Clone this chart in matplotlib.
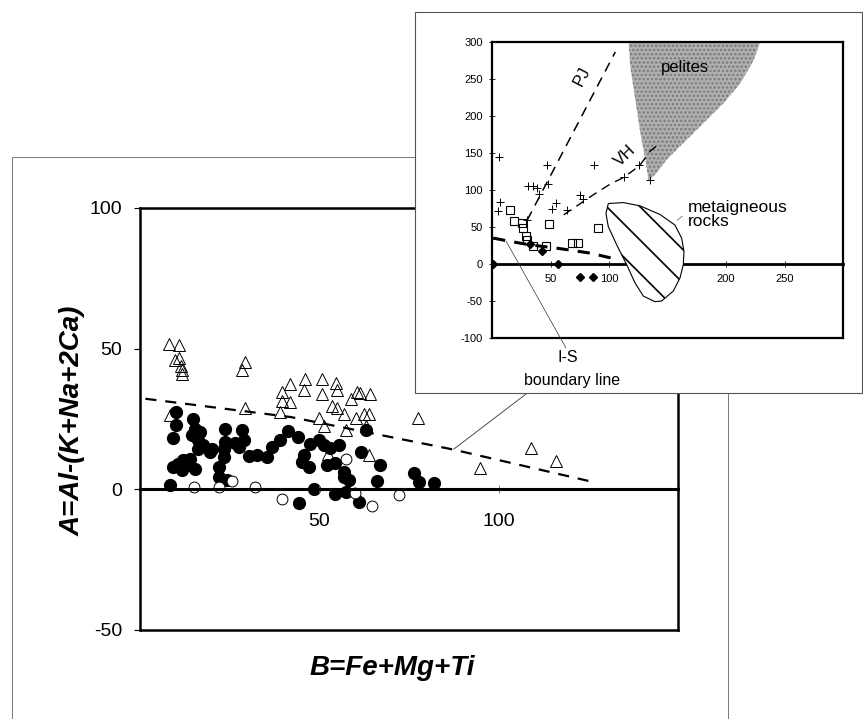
import matplotlib
matplotlib.use('Agg')
import matplotlib.pyplot as plt
from matplotlib.patches import Rectangle, Polygon

plt.rcParams['font.family'] = ['Liberation Sans', 'DejaVu Sans']
plt.rcParams['axes.unicode_minus'] = False
plt.rcParams['hatch.linewidth'] = 1.2

# ---- main diagram: A = Al-(K+Na+2Ca) vs B = Fe+Mg+Ti ----
tri_x = [8.2, 11.0, 9.8, 11.0, 11.4, 11.6, 11.6, 29.3, 28.4, 29.3, 8.4,
         39.6, 41.9, 39.6, 41.9, 39.1, 46.1, 45.6, 50.8, 50.8, 54.7, 54.9,
         58.7, 60.5, 61.4, 64.2, 53.5, 54.9, 56.8, 49.8, 51.2, 57.5,
         60.3, 62.4, 63.8, 63.1, 63.8, 52.3, 77.6, 94.7, 109.0, 115.9]
tri_y = [51.5, 51.2, 46.0, 46.8, 44.0, 42.3, 41.1, 45.3, 42.3, 29.0, 26.3,
         34.6, 37.6, 31.4, 31.0, 27.5, 39.2, 35.2, 39.2, 34.0, 37.8, 35.2,
         32.2, 34.6, 34.4, 34.0, 29.5, 29.0, 26.7, 25.5, 22.4, 21.2,
         25.5, 26.9, 26.7, 22.4, 12.3, 12.7, 25.5, 7.7, 14.8, 10.0]

dot_x = [10.0, 10.0, 9.3, 14.9, 15.4, 14.4, 16.8, 16.3, 17.7, 19.6, 16.3,
         10.7, 12.1, 14.0, 11.6, 15.4, 9.3, 13.5, 23.7, 23.7, 23.3, 23.3,
         21.9, 21.9, 24.2, 26.5, 28.4, 28.9, 27.5, 30.5, 32.6, 35.4, 36.8,
         39.1, 41.2, 44.0, 8.4, 47.5, 49.8, 51.2, 53.1, 55.4, 45.6, 45.2,
         47.0, 52.2, 54.5, 56.8, 58.2, 61.5, 63.1, 66.8, 66.1, 76.3, 77.7,
         82.1, 48.6, 54.5, 57.4, 44.2, 61.0, 56.8, 20.0]
dot_y = [27.5, 23.0, 18.2, 25.1, 21.6, 19.2, 20.4, 17.4, 15.6, 13.3, 14.5,
         9.1, 10.3, 10.9, 6.8, 7.4, 7.9, 8.5, 21.6, 17.0, 14.5, 11.5,
         7.9, 4.4, 3.2, 16.5, 21.0, 17.4, 15.0, 12.0, 12.1, 11.5, 15.0,
         17.6, 20.8, 18.6, 1.6, 16.0, 17.4, 15.6, 14.6, 15.6, 12.1, 9.7,
         7.9, 8.8, 9.4, 6.1, 3.2, 13.3, 21.0, 8.5, 2.8, 5.8, 2.6,
         2.4, 0.2, -1.5, -1.0, -4.8, -4.6, 4.4, 14.5]

ring_x = [15.0, 21.9, 25.6, 32.0, 39.5, 57.3, 60.0, 64.8, 72.2]
ring_y = [0.8, 0.8, 3.0, 0.8, -3.4, 10.9, -1.2, -5.8, -1.9]

# I-S boundary line (main)
is_x = [1.5, 42.0, 87.5, 125.0]
is_y = [32.2, 25.7, 14.1, 3.0]

# ---- inset diagram ----
cross_x = [5.7, 6.8, 5.4, 30.0, 31.0, 34.8, 38.7, 40.5, 47.0, 48.2, 51.0,
           54.7, 63.8, 75.2, 78.0, 87.0, 112.5, 126.0, 135.0]
cross_y = [144.6, 84.0, 72.0, 59.0, 105.0, 105.0, 102.7, 95.0, 134.0, 108.5, 75.0,
           83.0, 72.7, 92.8, 88.4, 134.0, 118.0, 134.0, 113.0]

sq_x = [15.4, 18.8, 25.4, 26.2, 29.0, 30.2, 35.3, 46.0, 48.7, 68.0, 73.2, 90.3]
sq_y = [73.6, 58.0, 55.0, 48.2, 38.4, 32.5, 24.5, 25.0, 54.0, 29.0, 29.0, 49.0]

dia_x = [1.0, 32.5, 42.5, 56.0, 75.2, 86.0]
dia_y = [0.0, 27.0, 17.8, 0.0, -17.8, -17.8]

ins_is_x = [1.0, 14.0, 32.0, 55.0, 84.0, 108.0]
ins_is_y = [35.0, 31.0, 26.0, 21.5, 14.7, 5.8]

pj_x = [30.0, 105.4]
pj_y = [59.0, 286.6]

vh_x = [61.3, 85.5, 101.0, 112.5, 126.0, 135.3, 143.9]
vh_y = [66.5, 92.4, 108.0, 117.0, 132.6, 152.7, 163.8]

pelite_x = [116.8, 118.2, 122.5, 126.8, 131.0, 133.9, 141.0, 149.6, 163.8,
            180.9, 198.0, 212.3, 223.6, 229.3]
pelite_y = [300.0, 266.5, 221.9, 177.2, 141.5, 112.5, 123.7, 141.5, 163.8,
            190.6, 217.4, 244.2, 275.4, 300.0]

meta_x = [99.4, 112.2, 126.5, 143.6, 156.4, 162.1, 164.1, 163.5, 160.7, 155.0,
          145.0, 139.3, 129.3, 122.2, 115.1, 106.6, 99.4, 97.4]
meta_y = [81.7, 83.0, 78.6, 66.9, 52.6, 34.8, 17.0, -0.9, -18.7, -36.5,
          -50.0, -50.9, -43.3, -25.4, -0.9, 25.8, 50.5, 68.3]

W, H = 863, 719


def fx(px):
    return px / W


def fy(py):
    return 1 - py / H


fig = plt.figure(figsize=(8.63, 7.19), dpi=100)

# outer frame of the main figure
fig.patches.append(Rectangle((fx(12), fy(730)), fx(728) - fx(12), fy(157) - fy(730),
                             transform=fig.transFigure, fill=False,
                             ec='#777777', lw=0.7, zorder=1))

ax = fig.add_axes([fx(140), fy(630), fx(678) - fx(140), fy(208) - fy(630)])
ax.set_xlim(0, 150)
ax.set_ylim(-50, 100)
ax.set_xticks([])
ax.set_yticks([-50, 0, 50, 100])
ax.tick_params(axis='y', direction='out', length=4, width=0.8, labelsize=14, pad=9)
for s in ax.spines.values():
    s.set_linewidth(1.8)

ax.plot(is_x, is_y, color='black', lw=1.6, dashes=(5, 4))
ax.plot(tri_x, tri_y, linestyle='none', marker='^', ms=9,
        mfc='none', mec='black', mew=0.7)
ax.plot(dot_x, dot_y, linestyle='none', marker='o', ms=8.5, color='black')
ax.plot(ring_x, ring_y, linestyle='none', marker='o', ms=7.8,
        mfc='white', mec='black', mew=0.7)

zero = ax.secondary_xaxis(1 / 3)
zero.set_xticks([50, 100])
zero.tick_params(direction='inout', length=6, width=0.6, color='#666666',
                 labelsize=14, pad=14)
zero.spines['bottom'].set_linewidth(2.2)
zero.set_zorder(5)

ax.annotate('', xy=(87.5, 14.3), xytext=(fx(530), fy(391)),
            textcoords='figure fraction',
            arrowprops=dict(arrowstyle='-', lw=0.6, color='#333333',
                            shrinkA=0, shrinkB=0))

fig.text(fx(392), fy(675), 'B=Fe+Mg+Ti', fontsize=20, fontweight='bold',
         fontstyle='italic', ha='center', va='baseline')
fig.text(fx(73), fy(421), 'A=Al-(K+Na+2Ca)', fontsize=20, fontweight='bold',
         fontstyle='italic', rotation=90, ha='center', va='center')

# inset panel
fig.patches.append(Rectangle((fx(415), fy(393)), fx(862) - fx(415), fy(12) - fy(393),
                             transform=fig.transFigure, fc='white',
                             ec='#555555', lw=0.8, zorder=2))

ins = fig.add_axes([fx(492), fy(338), fx(843) - fx(492), fy(42) - fy(338)], zorder=3)
ins.set_xlim(0, 300)
ins.set_ylim(-100, 300)
ins.set_xticks([])
ins.set_yticks(range(-100, 301, 50))
ins.tick_params(axis='y', direction='inout', length=5, width=0.6, labelsize=8, pad=4)
for s in ins.spines.values():
    s.set_linewidth(1.6)

ins.add_patch(Polygon(list(zip(pelite_x, pelite_y)), closed=True, fc='#b0b0b0',
                      ec='#7a7a7a', lw=0, hatch='....', zorder=1))
ins.add_patch(Polygon(list(zip(meta_x, meta_y)), closed=True, fc='white',
                      ec='black', lw=0.8, hatch='\\', zorder=1.5))

ins.plot(pj_x, pj_y, color='black', lw=1.1, dashes=(6.5, 4.5))
ins.plot(vh_x, vh_y, color='black', lw=1.0, dashes=(6.5, 4.5))
ins.plot(ins_is_x, ins_is_y, color='black', lw=2.2, dashes=(4, 3))
ins.plot(cross_x, cross_y, linestyle='none', marker='+', ms=6, mew=0.7, color='black')
ins.plot(sq_x, sq_y, linestyle='none', marker='s', ms=6, mfc='none',
         mec='black', mew=0.8)
ins.plot(dia_x, dia_y, linestyle='none', marker='D', ms=3.8, color='black')

izero = ins.secondary_xaxis(0.25)
izero.set_xticks([50, 100, 150, 200, 250])
izero.tick_params(direction='inout', length=5, width=0.6, labelsize=8, pad=4.5)
izero.spines['bottom'].set_linewidth(2.0)

ins.text(165, 266, 'pelites', fontsize=12, ha='center', va='center')
ins.text(77, 254, 'PJ', fontsize=12, rotation=63, ha='center', va='center')
ins.text(114, 146, 'VH', fontsize=12, rotation=44, ha='center', va='center')
ins.text(167.5, 86, 'metaigneous\nrocks', fontsize=12.5, ha='left', va='top',
         linespacing=0.85)
ins.plot([158.4, 162.5], [59.3, 64.5], color='#555555', lw=0.5)

ins.annotate('', xy=(12, 31), xytext=(fx(566), fy(348)), textcoords='figure fraction',
             arrowprops=dict(arrowstyle='-', lw=0.5, color='#333333',
                             shrinkA=0, shrinkB=0))
fig.text(fx(568), fy(358), 'I-S', fontsize=11.5, ha='center', va='center', zorder=4)
fig.text(fx(572), fy(380), 'boundary line', fontsize=11.5, ha='center', va='center',
         zorder=4)

fig.savefig('out.png', dpi=100, facecolor='white')
